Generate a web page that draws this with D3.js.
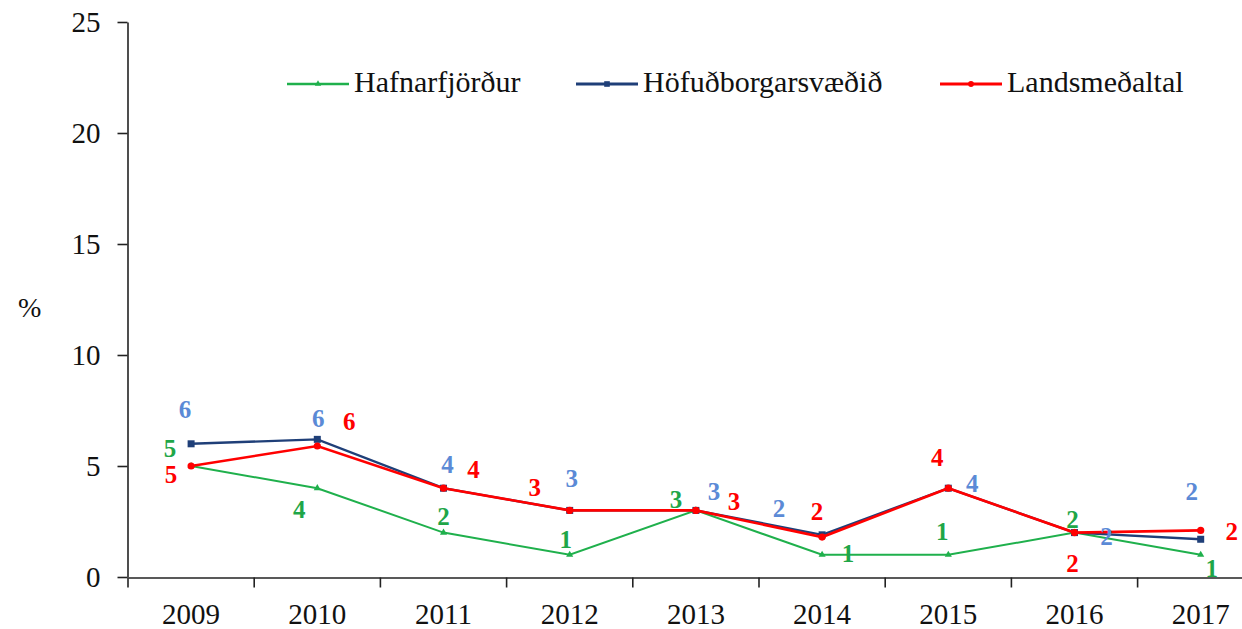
<!DOCTYPE html>
<html>
<head>
<meta charset="utf-8">
<script src="https://cdn.jsdelivr.net/npm/d3@7"></script>
<style>
  body { margin: 0; background: #fff; }
  svg { display: block; font-family: "Liberation Serif", "Times New Roman", serif; }
</style>
</head>
<body>
<svg id="chart" width="1242" height="629"></svg>
<script>
// Data
const years = ['2009', '2010', '2011', '2012', '2013', '2014', '2015', '2016', '2017'];
const hafnarfjordur = [5, 4, 2, 1, 3, 1, 1, 2, 1];
const hofudborg = [6, 6.2, 4, 3, 3, 1.9, 4, 2, 1.7];
const landsmedaltal = [5, 5.9, 4, 3, 3, 1.8, 4, 2, 2.1];
const yTicks = [0, 5, 10, 15, 20, 25];

// label nudges (px) relative to each point, to mimic the hand-placed labels
const greenNudge = [[-21, -9], [-18, 30], [0, -8], [-4, -7], [-20, -2], [26, 7], [-6, -15], [-2, -5], [11, 22]];
const blueNudge = [[-6, -26], [1, -12], [4, -15], [2, -23], [18, -10], [-43, -18], [24, 4], [32, 12], [-9, -39]];
const redNudge = [[-20, 17], [32, -16], [30, -10], [-35, -14], [38, 0], [-5, -17], [-11, -22], [-2, 39], [31, 10]];

const svg = d3.select('#chart');

const x = d3.scaleBand()
  .domain(years)
  .range([128, 128 + 126.2 * years.length])
  .padding(0);

const y = d3.scaleLinear()
  .domain([0, 25])
  .range([577, 22]);

const cx = d => x(d) + x.bandwidth() / 2;

// Y axis
const yAxis = svg.append('g')
  .attr('transform', 'translate(127.5,0)')
  .call(d3.axisLeft(y).tickValues(yTicks).tickSize(10).tickSizeOuter(0).tickPadding(17));
yAxis.selectAll('text')
  .attr('font-size', '29px')
  .attr('font-family', '"Liberation Serif", serif')
  .attr('fill', '#111');
yAxis.selectAll('line, path').attr('stroke', '#222').attr('stroke-width', 1.6);

// X axis: labels centred, ticks on band boundaries
const xAxis = svg.append('g')
  .attr('transform', 'translate(0,577.5)')
  .call(d3.axisBottom(x).tickSize(0).tickSizeOuter(0).tickPadding(26));
xAxis.selectAll('text')
  .attr('font-size', '29px')
  .attr('font-family', '"Liberation Serif", serif')
  .attr('fill', '#111');
xAxis.select('path').attr('stroke', '#222').attr('stroke-width', 1.6);
xAxis.selectAll('.boundary')
  .data(years.map(d => x(d)).concat([x.range()[1]]))
  .enter().append('line')
  .attr('class', 'boundary')
  .attr('x1', d => d).attr('x2', d => d)
  .attr('y1', 0).attr('y2', 10)
  .attr('stroke', '#222')
  .attr('stroke-width', 1.6);

// % label
svg.append('text')
  .attr('x', 18)
  .attr('y', 317)
  .attr('font-size', '28px')
  .attr('fill', '#111')
  .text('%');

const series = [
  { name: 'Hafnarfjörður', values: hafnarfjordur, color: '#1fb04c', labelColor: '#1fa648', width: 2, marker: 'triangle', nudge: greenNudge },
  { name: 'Höfuðborgarsvæðið', values: hofudborg, color: '#1f3f78', labelColor: '#5b8ad6', width: 2.4, marker: 'square', nudge: blueNudge },
  { name: 'Landsmeðaltal', values: landsmedaltal, color: '#ff0000', labelColor: '#ff0000', width: 2.6, marker: 'circle', nudge: redNudge }
];

const line = d3.line()
  .x((d, i) => cx(years[i]))
  .y(d => y(d));

function drawMarker(g, type, color, px, py, scale) {
  const s = scale || 1;
  if (type === 'square') {
    g.append('rect')
      .attr('x', px - 3.5 * s).attr('y', py - 3.5 * s)
      .attr('width', 7 * s).attr('height', 7 * s)
      .attr('fill', color);
  } else if (type === 'circle') {
    g.append('circle')
      .attr('cx', px).attr('cy', py).attr('r', 3.6 * s)
      .attr('fill', color);
  } else {
    g.append('path')
      .attr('d', d3.symbol(d3.symbolTriangle, 22 * s)())
      .attr('transform', `translate(${px},${py})`)
      .attr('fill', color);
  }
}

series.forEach(s => {
  const g = svg.append('g');
  g.append('path')
    .datum(s.values)
    .attr('d', line)
    .attr('fill', 'none')
    .attr('stroke', s.color)
    .attr('stroke-width', s.width);
  s.values.forEach((v, i) => drawMarker(g, s.marker, s.color, cx(years[i]), y(v)));
});

// data labels
series.forEach(s => {
  svg.append('g').selectAll('text')
    .data(s.values)
    .enter().append('text')
    .attr('x', (d, i) => cx(years[i]) + s.nudge[i][0])
    .attr('y', (d, i) => y(d) + s.nudge[i][1])
    .attr('text-anchor', 'middle')
    .attr('font-size', '25px')
    .attr('font-weight', 'bold')
    .attr('fill', s.labelColor)
    .text(d => Math.round(d));
});

// legend
const legendX = [287, 576, 940];
const legend = svg.append('g');
series.forEach((s, i) => {
  const lx = legendX[i];
  legend.append('line')
    .attr('x1', lx).attr('x2', lx + 62)
    .attr('y1', 84).attr('y2', 84)
    .attr('stroke', s.color)
    .attr('stroke-width', s.width + 0.6);
  drawMarker(legend, s.marker, s.color, lx + 31, 84, 0.8);
  legend.append('text')
    .attr('x', lx + 67)
    .attr('y', 92)
    .attr('font-size', '30px')
    .attr('fill', '#111')
    .text(s.name);
});
</script>
</body>
</html>
